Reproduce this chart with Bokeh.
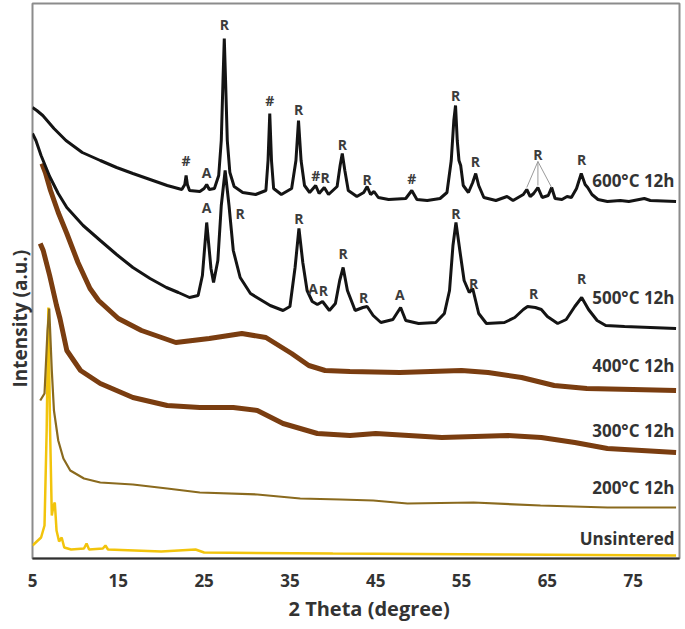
from bokeh.plotting import figure
from bokeh.models import FixedTicker, Title
from bokeh.core.properties import value
from bokeh.embed import file_html
from bokeh.resources import INLINE

# ---------------- data (2 theta, intensity a.u. with vertical stacking) ----------------
tt_600 = [5.0, 5.5, 6.2, 7.5, 8.9, 10.8, 12.9, 14.8, 16.7, 18.7, 20.7, 22.4, 22.75, 22.9, 23.05, 23.3,
          24.5, 25.0, 25.3, 25.6, 26.2, 26.7, 27.0, 27.2, 27.35, 27.5, 27.7, 28.0, 28.5, 29.5, 31.0,
          32.2, 32.45, 32.65, 32.85, 33.1, 34.0, 35.2, 35.7, 36.0, 36.3, 36.7, 37.3, 38.0, 38.4, 39.0,
          39.5, 40.5, 40.85, 41.1, 41.4, 41.8, 42.8, 43.6, 44.0, 44.4, 44.8, 45.3, 46.5, 48.5, 49.2,
          49.8, 51.0, 52.5, 53.3, 53.8, 54.1, 54.3, 54.5, 54.7, 54.9, 55.2, 55.8, 56.3, 56.65, 57.0,
          57.6, 59.0, 60.3, 61.0, 62.2, 62.6, 63.0, 63.4, 63.9, 64.4, 65.1, 65.5, 65.9, 66.7, 67.3,
          67.8, 68.4, 68.95, 69.4, 69.7, 70.2, 70.9, 72.0, 73.5, 74.5, 76.3, 77.0, 80.0]
int_600 = [451, 448, 443, 430, 418, 406, 398, 391, 385, 379, 373, 369, 374, 383, 374, 368,
           367, 370, 374, 369, 370, 383, 418, 478, 520, 478, 418, 386, 372, 366, 364,
           368, 398, 445, 398, 370, 364, 370, 398, 438, 398, 373, 366, 373, 365, 371,
           364, 372, 393, 405, 388, 368, 362, 366, 372, 364, 367, 361, 359, 360, 368,
           359, 358, 360, 366, 398, 438, 453, 418, 398, 393, 373, 366, 376, 385, 373,
           361, 358, 362, 358, 364, 369, 362, 365, 371, 361, 363, 371, 360, 359, 362,
           361, 370, 385, 374, 371, 364, 359, 357, 358, 357, 360, 358, 357]

tt_500 = [5.0, 5.4, 6.0, 7.0, 8.0, 9.0, 10.9, 12.9, 14.8, 16.7, 18.7, 20.6, 22.0, 23.3, 24.3, 24.8,
          25.3, 25.8, 26.1, 26.6, 27.0, 27.45, 27.9, 28.4, 29.2, 30.4, 32.7, 34.2, 35.0, 35.6, 36.05,
          36.5, 37.0, 37.6, 38.2, 38.8, 39.6, 40.3, 40.8, 41.2, 41.7, 42.6, 43.5, 44.0, 44.7, 45.6,
          47.0, 47.9, 48.5, 50.0, 52.0, 53.0, 53.6, 54.0, 54.35, 54.8, 55.3, 55.9, 56.3, 57.0, 57.9,
          60.0, 61.2, 62.2, 62.7, 63.6, 64.3, 65.0, 66.2, 67.2, 68.2, 69.0, 69.8, 70.8, 71.8, 74.0,
          77.0, 80.0]
int_500 = [425, 418, 403, 382, 365, 351, 333, 318, 304, 291, 280, 271, 266, 261, 263, 283,
           336, 290, 276, 298, 353, 388, 353, 308, 281, 265, 253, 248, 252, 291, 330,
           296, 268, 257, 254, 257, 248, 255, 278, 291, 268, 248, 251, 252, 243, 236,
           239, 251, 238, 235, 236, 245, 268, 313, 336, 308, 278, 266, 270, 245, 235,
           236, 241, 249, 252, 251, 249, 242, 235, 239, 252, 261, 249, 238, 233, 232,
           231, 230]

tt_400 = [6.1, 6.5, 7.1, 8.0, 9.0, 10.3, 11.7, 12.7, 15.0, 17.7, 21.7, 25.6, 29.4, 32.2, 35.2,
          37.2, 39.1, 42.0, 47.8, 55.0, 58.1, 62.0, 65.8, 69.6, 75.0, 80.0]
int_400 = [395, 386, 368, 346, 325, 296, 270, 258, 240, 228, 216, 220, 225, 221, 205,
           193, 188, 187, 186, 188, 186, 181, 173, 170, 169, 168]

tt_300 = [5.9, 6.25, 7.0, 7.8, 8.2, 9.0, 10.6, 12.9, 16.7, 20.7, 24.5, 28.4, 31.2, 34.2, 38.2,
          42.0, 45.0, 52.7, 60.4, 64.3, 68.2, 72.0, 76.0, 80.0]
int_300 = [315, 308, 283, 253, 240, 208, 188, 175, 161, 153, 151, 151, 148, 135, 125,
           123, 125, 121, 123, 121, 116, 110, 108, 106]

tt_200 = [5.9, 6.4, 6.75, 6.95, 7.25, 7.5, 8.0, 8.6, 9.4, 11.0, 12.9, 16.7, 20.7, 24.5, 31.2,
          36.2, 40.9, 44.7, 48.7, 56.4, 64.2, 72.0, 80.0]
int_200 = [158, 165, 228, 250, 188, 148, 118, 100, 88, 80, 76, 74, 70, 66, 64,
           60, 59, 58, 55, 56, 53, 51, 51]

tt_uns = [5.0, 5.5, 6.0, 6.4, 6.65, 6.85, 7.05, 7.25, 7.45, 7.6, 7.8, 8.1, 8.4, 8.7, 9.5, 11.0,
          11.3, 11.6, 13.2, 13.5, 13.8, 20.0, 24.0, 25.0, 40.0, 60.0, 80.0]
int_uns = [13, 17, 21, 33, 128, 251, 128, 43, 53, 56, 28, 17, 21, 11, 9, 10,
           15, 9, 10, 13, 9, 7, 9, 6, 5, 4, 3]

series_names = ["600°C 12h", "500°C 12h", "400°C 12h", "300°C 12h", "200°C 12h", "Unsintered"]
series_label_y = [378, 261, 193, 128, 71, 20]

# phase labels (R = rutile, A = anatase, # = other)
pk600_tt = [22.9, 25.3, 27.35, 32.65, 36.0, 38.0, 39.1, 41.1, 44.0, 49.2, 54.3, 56.6, 63.9, 69.0]
pk600_y = [398, 386, 534, 458, 449, 383, 381, 414, 379, 380, 463, 397, 404, 399]
pk600_txt = ["#", "A", "R", "#", "R", "#", "R", "R", "R", "#", "R", "R", "R", "R"]

pk500_tt = [25.3, 29.2, 36.05, 37.7, 38.9, 41.2, 43.6, 47.8, 54.35, 56.4, 63.4, 69.0]
pk500_y = [351, 345, 340, 270, 268, 305, 261, 264, 345, 275, 265, 280]
pk500_txt = ["A", "R", "R", "A", "R", "R", "R", "A", "R", "R", "R", "R"]

# leader lines from grouped R label to its three peaks (600 °C)
lead_tt0 = [63.9, 63.9, 63.9]
lead_y0 = [397, 397, 397]
lead_tt1 = [62.6, 63.9, 65.5]
lead_y1 = [371, 373, 371]

xticks = [5, 15, 25, 35, 45, 55, 65, 75]

# ---------------- figure ----------------
FONT = "Open Sans"
p = figure(frame_width=647, frame_height=555, x_range=(5, 80.4), y_range=(0, 555),
           output_backend="svg", toolbar_location=None, y_axis_location=None,
           min_border_left=32, min_border_right=6, min_border_top=3, min_border_bottom=0)
p.background_fill_color = "white"
p.border_fill_color = "white"
p.outline_line_color = "#8c8c8c"
p.outline_line_width = 2
p.xgrid.visible = False
p.ygrid.visible = False

ax = p.xaxis[0]
ax.ticker = FixedTicker(ticks=xticks)
ax.axis_line_color = "#303030"
ax.axis_line_width = 2
ax.major_tick_line_color = None
ax.minor_tick_line_color = None
ax.major_tick_out = 0
ax.major_tick_in = 0
ax.major_label_standoff = 15
ax.major_label_text_font = FONT
ax.major_label_text_font_style = "bold"
ax.major_label_text_font_size = "17px"
ax.major_label_text_color = "#333333"

p.add_layout(Title(text="2 Theta (degree)", align="left", offset=256, standoff=6,
                   text_font=FONT, text_font_style="bold", text_font_size="20px",
                   text_color="#333333"), "below")
p.add_layout(Title(text="Intensity (a.u.)", align="left", offset=171, standoff=0,
                   text_font=FONT, text_font_style="bold", text_font_size="19px",
                   text_color="#333333"), "left")

# curves
p.line(tt_uns, int_uns, line_color="#f2c40c", line_width=2.5)
p.line(tt_200, int_200, line_color="#8a6a1e", line_width=2.2)
p.line(tt_300, int_300, line_color="#7a3d10", line_width=5)
p.line(tt_400, int_400, line_color="#7a3d10", line_width=5)
p.line(tt_500, int_500, line_color="#141414", line_width=3)
p.line(tt_600, int_600, line_color="#141414", line_width=3)

p.segment(x0=lead_tt0, y0=lead_y0, x1=lead_tt1, y1=lead_y1, line_color="#9a9a9a", line_width=1)

lab_kw = dict(text_font=value(FONT), text_font_style="bold", text_font_size="14px",
              text_color="#3c3c3c", text_align="center", text_baseline="middle")
p.text(x=pk600_tt, y=pk600_y, text=pk600_txt, **lab_kw)
p.text(x=pk500_tt, y=pk500_y, text=pk500_txt, **lab_kw)

p.text(x=[80.4] * len(series_names), y=series_label_y, text=series_names, x_offset=-5,
       text_font=value(FONT), text_font_style="bold", text_font_size="17px",
       text_color="#333333", text_align="right", text_baseline="middle")

open("out.html", "w").write(file_html(p, INLINE))
